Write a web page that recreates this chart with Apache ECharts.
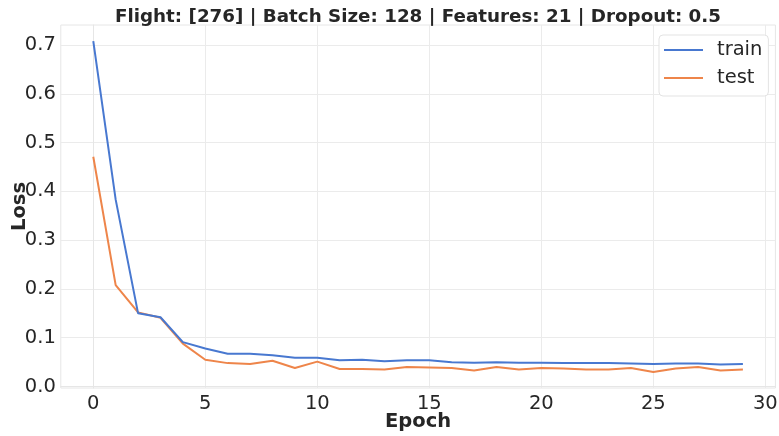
<!DOCTYPE html>
<html>
<head>
<meta charset="utf-8">
<script src="https://cdn.jsdelivr.net/npm/echarts@6/dist/echarts.min.js"></script>
<style>
html,body{margin:0;padding:0;background:#fff;}
#chart{width:779px;height:436px;}
</style>
</head>
<body>
<div id="chart"></div>
<script>
const epochs = [0,1,2,3,4,5,6,7,8,9,10,11,12,13,14,15,16,17,18,19,20,21,22,23,24,25,26,27,28,29];
const trainLoss = [0.708,0.383,0.150,0.142,0.091,0.078,0.067,0.067,0.064,0.059,0.059,0.054,0.055,0.052,0.054,0.054,0.050,0.049,0.050,0.049,0.049,0.048,0.048,0.048,0.047,0.046,0.047,0.047,0.045,0.046];
const testLoss = [0.471,0.208,0.152,0.141,0.088,0.055,0.048,0.046,0.053,0.038,0.051,0.036,0.036,0.035,0.040,0.039,0.038,0.033,0.040,0.035,0.038,0.037,0.035,0.035,0.038,0.030,0.037,0.040,0.033,0.035];
const xTicks = [0,5,10,15,20,25,30];
const yTicks = [0,0.1,0.2,0.3,0.4,0.5,0.6,0.7];
const seriesNames = ['train','test'];
const titleText = 'Flight: [276] | Batch Size: 128 | Features: 21 | Dropout: 0.5';
const xName = 'Epoch';
const yName = 'Loss';

const FONT = 'DejaVu Sans';
const TXT = '#262626';
const GRID = '#ebebeb';
const colors = ['#4878d0', '#ee854a'];

const chart = echarts.init(document.getElementById('chart'));
chart.setOption({
  animation: false,
  backgroundColor: '#fff',
  title: {
    text: titleText,
    left: 413,
    textAlign: 'center',
    top: 3,
    textStyle: {fontFamily: FONT, fontSize: 18.3, fontWeight: 'bold', color: TXT}
  },
  legend: {
    orient: 'vertical',
    left: 659,
    top: 35,
    data: seriesNames,
    icon: 'rect',
    itemWidth: 39,
    itemHeight: 2,
    itemGap: 8,
    padding: [5, 6, 8, 5],
    backgroundColor: '#fff',
    borderColor: '#e3e3e3',
    borderWidth: 1,
    borderRadius: 4,
    textStyle: {fontFamily: FONT, fontSize: 19.5, color: TXT, padding: [0,0,0,9]}
  },
  grid: {
    left: 60.8, right: 3.6, top: 25, bottom: 48,
    outerBoundsMode: 'none',
    containLabel: false,
    show: true, borderColor: '#e6e6e6', borderWidth: 1
  },
  xAxis: {
    type: 'value',
    min: -1.45, max: 30.45,
    name: xName,
    nameLocation: 'middle',
    nameGap: 24,
    nameMoveOverlap: false,
    nameTextStyle: {fontFamily: FONT, fontSize: 19.5, fontWeight: 'bold', color: TXT},
    axisLine: {show: true, lineStyle: {color: '#e6e6e6', width: 1}},
    axisTick: {show: false, customValues: xTicks},
    axisLabel: {customValues: xTicks, fontFamily: FONT, fontSize: 19.5, color: TXT, margin: 6},
    splitLine: {show: true, lineStyle: {color: GRID, width: 1}}
  },
  yAxis: {
    type: 'value',
    min: -0.003, max: 0.741,
    name: yName,
    nameLocation: 'middle',
    nameGap: 31,
    nameMoveOverlap: false,
    nameTextStyle: {fontFamily: FONT, fontSize: 19.5, fontWeight: 'bold', color: TXT},
    axisLine: {show: true, lineStyle: {color: '#e6e6e6', width: 1}},
    axisTick: {show: false, customValues: yTicks},
    axisLabel: {customValues: yTicks, fontFamily: FONT, fontSize: 19.5, color: TXT, margin: 5,
      formatter: v => v.toFixed(1)},
    splitLine: {show: true, lineStyle: {color: GRID, width: 1}}
  },
  series: [
    {
      name: seriesNames[0], type: 'line', showSymbol: false, symbol: 'none',
      data: epochs.map((e, i) => [e, trainLoss[i]]),
      lineStyle: {color: colors[0], width: 2}, itemStyle: {color: colors[0]}, z: 3
    },
    {
      name: seriesNames[1], type: 'line', showSymbol: false, symbol: 'none',
      data: epochs.map((e, i) => [e, testLoss[i]]),
      lineStyle: {color: colors[1], width: 2}, itemStyle: {color: colors[1]}, z: 2
    }
  ]
});
</script>
</body>
</html>
